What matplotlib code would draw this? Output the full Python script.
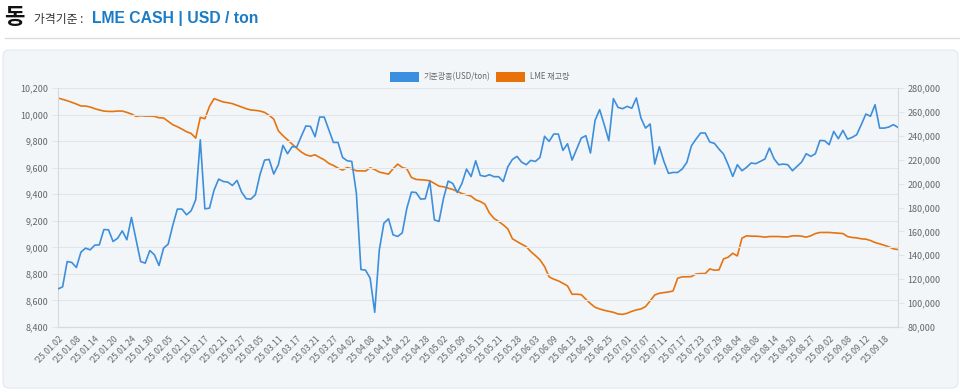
import matplotlib
matplotlib.use("Agg")
import matplotlib.pyplot as plt
from matplotlib.patches import FancyBboxPatch, Rectangle
from matplotlib.lines import Line2D
from matplotlib.ticker import FuncFormatter, MultipleLocator
from matplotlib.transforms import IdentityTransform

plt.rcParams['font.family'] = ['Noto Sans CJK KR', 'DejaVu Sans']

# copper cash price (USD/ton), one value per LME trading day
price = [8687, 8702, 8893, 8886, 8848, 8964, 8994, 8981, 9016, 9019,
         9134, 9132, 9044, 9069, 9124, 9057, 9225, 9057, 8893, 8881,
         8976, 8944, 8863, 8994, 9024, 9165, 9288, 9288, 9245, 9275,
         9358, 9810, 9290, 9295, 9431, 9514, 9496, 9491, 9466, 9504,
         9416, 9366, 9363, 9396, 9547, 9657, 9662, 9552, 9622, 9768,
         9705, 9758, 9755, 9836, 9914, 9911, 9833, 9981, 9981, 9886,
         9790, 9790, 9677, 9652, 9647, 9408, 8833, 8828, 8768, 8511,
         8981, 9182, 9215, 9094, 9082, 9109, 9295, 9416, 9413, 9363,
         9366, 9496, 9207, 9195, 9371, 9499, 9481, 9413, 9481, 9589,
         9533, 9652, 9542, 9534, 9547, 9532, 9532, 9496, 9607, 9662,
         9685, 9642, 9622, 9655, 9647, 9677, 9836, 9798, 9853, 9853,
         9730, 9780, 9657, 9740, 9823, 9841, 9710, 9956, 10037, 9924,
         9803, 10120, 10054, 10044, 10062, 10047, 10125, 9974, 9898, 9929,
         9627, 9758, 9647, 9557, 9564, 9564, 9590, 9640, 9765, 9815,
         9861, 9861, 9793, 9783, 9740, 9702, 9622, 9534, 9622, 9577,
         9602, 9635, 9630, 9647, 9665, 9748, 9667, 9622, 9627, 9622,
         9577, 9610, 9642, 9705, 9685, 9705, 9805, 9803, 9773, 9873,
         9818, 9881, 9815, 9828, 9848, 9924, 10004, 9987, 10074, 9898,
         9898, 9906, 9924, 9903]

# LME stocks (ton)
stock = [271600, 270500, 269400, 268000, 266600, 264900, 264900, 264100, 262700, 261600,
         260700, 260400, 260400, 260700, 260700, 259600, 258200, 256300, 256800, 256500,
         256500, 256300, 255100, 254900, 252100, 249300, 247600, 245600, 243400, 242000,
         238100, 255400, 254300, 264600, 271100, 269700, 268300, 267700, 266900, 265500,
         264100, 262700, 261600, 261300, 260700, 259600, 257100, 254000, 244200, 240100,
         236700, 233100, 229700, 226400, 224100, 223000, 224100, 221900, 219900, 216900,
         215200, 213000, 211300, 213500, 212400, 210700, 210700, 210500, 213200, 211800,
         209600, 208800, 207900, 212400, 216300, 213500, 212400, 205100, 203500, 203200,
         202900, 202400, 200100, 197900, 197300, 196200, 195100, 193400, 191700, 190600,
         189500, 186400, 185000, 182800, 175300, 170800, 168300, 165500, 162100, 153800,
         151500, 149300, 147300, 143100, 139800, 136200, 130600, 122000, 120000, 118600,
         116600, 114400, 107400, 107400, 107100, 103200, 99600, 96500, 95100, 94000,
         93100, 92300, 90900, 90600, 91500, 93100, 94300, 95100, 97100, 101800,
         106800, 108200, 108800, 109300, 110200, 120800, 122000, 122000, 122200, 124400,
         124700, 124700, 128600, 127500, 127800, 137000, 138400, 141700, 139500, 154300,
         156300, 156000, 156000, 155700, 155200, 155700, 155700, 155700, 155400, 155400,
         156300, 156300, 156000, 155200, 156300, 158200, 159100, 159100, 159100, 158800,
         158500, 158200, 155700, 154900, 154600, 153800, 153500, 152400, 150700, 149600,
         148400, 147100, 145400, 144800]

# labels shown on the x axis (every 4th trading day)
date_labels = ["'25.01.02", "'25.01.08", "'25.01.14", "'25.01.20", "'25.01.24", "'25.01.30",
               "'25.02.05", "'25.02.11", "'25.02.17", "'25.02.21", "'25.02.27", "'25.03.05",
               "'25.03.11", "'25.03.17", "'25.03.21", "'25.03.27", "'25.04.02", "'25.04.08",
               "'25.04.14", "'25.04.22", "'25.04.28", "'25.05.02", "'25.05.09", "'25.05.15",
               "'25.05.21", "'25.05.28", "'25.06.03", "'25.06.09", "'25.06.13", "'25.06.19",
               "'25.06.25", "'25.07.01", "'25.07.07", "'25.07.11", "'25.07.17", "'25.07.23",
               "'25.07.29", "'25.08.04", "'25.08.08", "'25.08.14", "'25.08.20", "'25.08.27",
               "'25.09.02", "'25.09.08", "'25.09.12", "'25.09.18"]

series_names = ['기준광종(USD/ton)', 'LME 재고량']

BLUE = '#3d8fdc'
ORANGE = '#e5740f'
GRID = '#e1e5ea'
TXT = '#666666'

W, H = 960, 390
fig = plt.figure(figsize=(W / 100, H / 100), dpi=100)
fig.patch.set_facecolor('white')

# header
fig.text(4 / W, 1 - 17 / H, '동', fontsize=16, fontweight='bold', color='#111111', va='center')
fig.text(34 / W, 1 - 19 / H, '가격기준 :', fontsize=8.5, color='#333333', va='center')
fig.text(92 / W, 1 - 19 / H, 'LME CASH | USD / ton', fontsize=11.3, fontweight='bold',
         color='#1a7cc6', va='center', family=['Liberation Sans', 'DejaVu Sans'])
fig.add_artist(Line2D([5 / W, 1], [1 - 37.5 / H] * 2, color='#dddddd', lw=1))

# panel
panel = FancyBboxPatch((3, H - 388), 955, 338, boxstyle='round,pad=0,rounding_size=6',
                       transform=IdentityTransform(), facecolor='#f3f6f9',
                       edgecolor='#e3e7eb', lw=0.8, zorder=-5)
fig.add_artist(panel)

# legend (drawn by hand)
fig.add_artist(Rectangle((390, H - 82), 29, 10, transform=IdentityTransform(),
                         facecolor='#3b8fe0', edgecolor='none'))
fig.text(424 / W, 1 - 77 / H, series_names[0], fontsize=5.8, color=TXT, va='center')
fig.add_artist(Rectangle((496, H - 82), 29, 10, transform=IdentityTransform(),
                         facecolor='#e8710a', edgecolor='none'))
fig.text(530 / W, 1 - 77 / H, series_names[1], fontsize=5.8, color=TXT, va='center')

ax = fig.add_axes([58 / W, 1 - 327 / H, 840 / W, 239 / H])
ax2 = ax.twinx()
ax.set_zorder(ax2.get_zorder() + 1)
ax.patch.set_visible(False)
ax2.patch.set_visible(False)

x = list(range(len(price)))
ax.plot(x, price, color=BLUE, lw=1.2, zorder=3)
ax2.plot(x, stock, color=ORANGE, lw=1.2)

ax.set_xlim(0, len(price) - 1)
ax.set_ylim(8400, 10200)
ax2.set_ylim(80000, 280000)
ax.yaxis.set_major_locator(MultipleLocator(200))
ax2.yaxis.set_major_locator(MultipleLocator(20000))
comma = FuncFormatter(lambda v, p: f'{int(v):,}')
ax.yaxis.set_major_formatter(comma)
ax2.yaxis.set_major_formatter(comma)

ax.yaxis.grid(True, color=GRID, lw=0.8)
ax.set_axisbelow(True)

for a in (ax, ax2):
    for s in a.spines.values():
        s.set_color('#d6dadf')
        s.set_linewidth(0.8)
    a.spines['top'].set_visible(False)
ax.spines['right'].set_visible(False)
ax2.spines['left'].set_visible(False)

ax.tick_params(axis='y', length=4, color=GRID, labelsize=6.5, labelcolor=TXT, pad=3)
ax2.tick_params(axis='y', length=4, color=GRID, labelsize=6.5, labelcolor=TXT, pad=3)

ax.set_xticks(range(0, len(price), 4))
ax.set_xticklabels(date_labels, rotation=45, ha='right', va='top', rotation_mode='anchor',
                   fontsize=6.2, color=TXT)
ax.tick_params(axis='x', length=0, pad=5)

fig.savefig('out.png', dpi=100)
